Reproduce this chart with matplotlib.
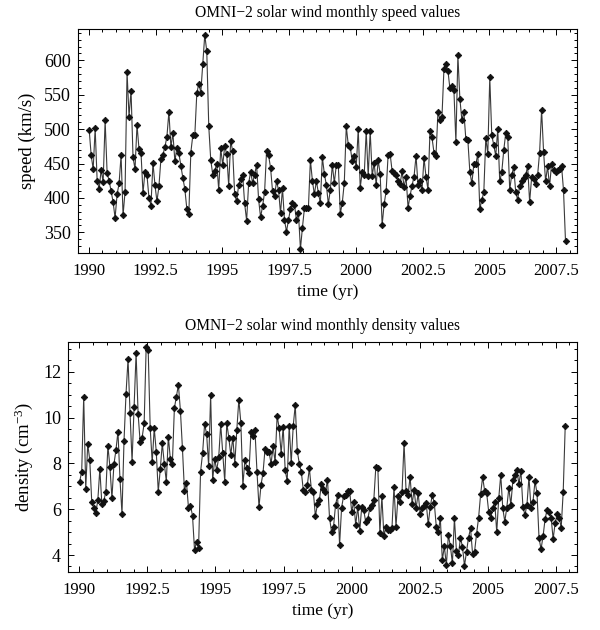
import numpy as np
import matplotlib
matplotlib.use('Agg')
import matplotlib.pyplot as plt
from matplotlib.ticker import MultipleLocator

plt.rcParams['font.family'] = ['Liberation Serif', 'DejaVu Serif']
plt.rcParams['mathtext.fontset'] = 'custom'
plt.rcParams['mathtext.rm'] = 'Liberation Serif'
plt.rcParams['mathtext.default'] = 'regular'

# first and last sample (yr), 27-day averages
T_START = 1990.01
T_END = 2007.85

speed = [499, 462, 442, 501, 425, 413, 441, 423, 513, 436, 425, 410, 394, 371, 405, 421,
         462, 375, 409, 583, 518, 556, 459, 442, 506, 471, 466, 407, 438, 433, 400, 389,
         451, 419, 395, 417, 457, 463, 474, 489, 525, 474, 494, 453, 473, 465, 447, 429,
         413, 384, 377, 466, 491, 491, 552, 566,
         553, 595, 637, 613, 504, 455, 434, 439, 450, 412, 472, 448, 475, 464, 418, 483,
         468, 405, 395, 419, 427, 434, 392, 367, 421, 438, 422, 434, 448, 398, 372, 388,
         408, 468, 462, 444, 410, 403, 424, 412, 378, 414, 368, 351, 368, 384, 392, 390,
         368, 378, 326, 357, 385, 385, 386, 455, 425, 405, 425, 407, 393,
         459, 435, 419, 391, 412, 448, 422, 448, 448, 377, 393, 422, 504, 477, 474, 453,
         461, 445, 500, 415, 438, 433, 497, 432, 497, 432, 451, 419, 455, 435, 361, 391,
         410, 463, 464, 439, 436, 434, 424, 420, 439, 416, 430, 386, 403, 418, 431, 461,
         419, 424, 411, 458, 431, 412, 497, 488, 466, 461, 525, 513, 517, 587, 595,
         585, 559, 562, 557, 481, 607, 544, 513, 525, 485, 484, 438, 421, 449, 449, 464,
         384, 397, 408, 487, 464, 575, 491, 477, 461, 500, 424, 437, 469, 494, 489, 412,
         433, 445, 409, 397, 418, 424, 429, 433, 446, 394, 430, 428, 420, 433, 466, 528,
         467, 424, 446, 417, 449, 440, 438, 441, 442, 447, 411, 337]

density = [7.21, 7.64, 10.91, 6.89, 8.85, 8.15, 6.30, 6.07, 5.85, 6.39, 7.75, 6.24, 6.38, 6.77,
           8.77, 7.86, 6.48, 7.96, 8.59, 9.39, 7.32, 5.79, 8.98, 11.05, 12.55, 10.19, 8.08,
           10.48, 12.82, 10.16, 8.95, 9.13, 9.76, 13.08, 12.96, 9.54, 8.05, 9.54, 8.52, 6.77,
           7.75, 8.88, 7.99, 7.21, 9.17, 8.20, 7.99, 10.41, 10.91, 11.43, 10.30, 8.66, 6.80,
           7.16, 6.07, 6.16, 5.72, 4.22, 4.58,
           4.29, 7.64, 8.44, 9.71, 9.29, 7.89, 10.99, 7.26, 8.20, 7.70, 8.26, 9.71, 8.44, 7.21,
           9.77, 9.13, 8.37, 9.13, 7.99, 9.48, 10.79, 9.77, 7.03, 8.14, 7.82, 7.56, 9.36, 9.19,
           9.45, 7.64, 6.10, 7.06, 7.59, 8.63, 8.52, 8.49, 7.99, 8.75, 8.05, 10.09, 9.54, 8.43,
           9.61, 7.70, 7.24, 9.65, 8.02, 9.65, 10.55, 8.55, 7.99, 7.64, 6.83, 6.77, 7.06, 7.79,
           6.86, 6.74, 5.69, 6.22, 6.42, 7.12, 6.89, 6.74, 7.29,
           5.63, 5.02, 5.24, 6.19, 6.60, 4.44, 6.07, 6.58, 6.60, 6.80, 6.80, 5.90, 6.33, 5.31,
           6.11, 5.05, 6.11, 5.95, 5.43, 5.57, 6.04, 6.19, 6.42, 7.86, 7.79, 4.96, 6.56, 4.82,
           5.24, 5.09, 5.09, 5.17, 6.99, 5.24, 6.56, 6.33, 6.77, 8.90, 6.80, 6.62, 7.42, 6.22,
           6.84, 6.04, 6.70, 5.81, 6.04, 6.13, 6.26, 5.34, 6.10, 6.62, 6.27, 5.24, 5.02, 5.60,
           3.78, 4.38, 3.56, 4.87, 4.38, 3.65, 5.60, 4.17, 4.00,
           4.76, 4.35, 3.53, 4.15, 4.76, 5.17, 4.06, 4.15, 4.93, 5.63, 6.65, 7.41, 6.80, 6.71,
           5.90, 5.63, 6.04, 6.33, 4.99, 6.48, 7.50, 6.04, 5.46, 6.07, 6.94, 6.19, 7.26, 7.50,
           7.72, 7.10, 7.67, 6.11, 5.75, 6.19, 7.41, 6.07, 6.33, 7.23, 6.69, 4.73, 4.26, 4.82,
           5.57, 5.98, 5.87, 5.63, 4.70, 5.40, 5.79, 5.63, 5.20, 6.77, 9.65]

year_ticks = [1990, 1992.5, 1995, 1997.5, 2000, 2002.5, 2005, 2007.5]
year_labels = ['1990', '1992.5', '1995', '1997.5', '2000', '2002.5', '2005', '2007.5']


def plot(ax, y, title, ylabel, ylim, major, minor):
    t = np.linspace(T_START, T_END, len(y))
    ax.plot(t, y, color='#3a3a3a', lw=0.8, marker='D', ms=3.3,
            mfc='#111111', mec='#111111', mew=0.6)
    ax.set_xlim(1989.58, 2008.27)
    ax.set_ylim(*ylim)
    ax.set_xticks(year_ticks)
    ax.set_xticklabels(year_labels)
    ax.xaxis.set_minor_locator(MultipleLocator(0.5))
    ax.yaxis.set_major_locator(MultipleLocator(major))
    ax.yaxis.set_minor_locator(MultipleLocator(minor))
    ax.tick_params(which='both', direction='in', top=True, right=True, width=0.7)
    ax.tick_params(which='major', length=4.5)
    ax.tick_params(which='minor', length=2.2)
    ax.tick_params(axis='x', labelsize=12, pad=7)
    ax.tick_params(axis='y', labelsize=13, pad=5)
    for s in ax.spines.values():
        s.set_linewidth(0.8)
    ax.set_title(title, fontsize=11.2, pad=9)
    ax.set_xlabel('time (yr)', fontsize=12.5, labelpad=4)
    ax.set_ylabel(ylabel, fontsize=13.5, labelpad=6)


fig = plt.figure(figsize=(6, 6.3), dpi=100)
ax1 = fig.add_axes([0.1295, 0.5984, 0.8317, 0.3551])
ax2 = fig.add_axes([0.1133, 0.0921, 0.8478, 0.3650])

plot(ax1, speed, 'OMNI\u22122 solar wind monthly speed values', 'speed (km/s)',
     (320, 645), 50, 10)
plot(ax2, density, 'OMNI\u22122 solar wind monthly density values', r'density (cm$^{-3}$)',
     (3.26, 13.3), 2, 0.5)

fig.savefig('out.png', dpi=100)
